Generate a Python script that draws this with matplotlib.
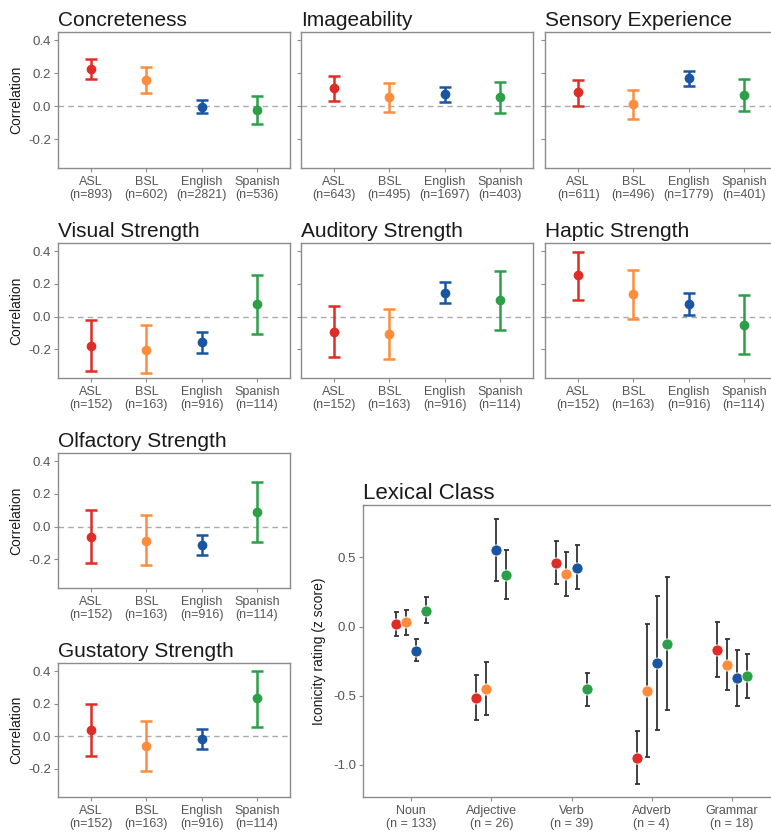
import numpy as np
import matplotlib
matplotlib.use("Agg")
import matplotlib.pyplot as plt

plt.rcParams['font.family'] = ['Liberation Sans', 'DejaVu Sans']

# languages and colours
langs = ['ASL', 'BSL', 'English', 'Spanish']
lang_colors = ['#DE2D26', '#FD8D3C', '#1A55A3', '#2CA048']

# correlation panels
titles = ['Concreteness', 'Imageability', 'Sensory Experience',
          'Visual Strength', 'Auditory Strength', 'Haptic Strength',
          'Olfactory Strength', 'Gustatory Strength']
n_words = [[893, 602, 2821, 536],
           [643, 495, 1697, 403],
           [611, 496, 1779, 401],
           [152, 163, 916, 114],
           [152, 163, 916, 114],
           [152, 163, 916, 114],
           [152, 163, 916, 114],
           [152, 163, 916, 114]]
corr = [[0.226, 0.158, -0.004, -0.024],
        [0.109, 0.055, 0.075, 0.055],
        [0.083, 0.014, 0.172, 0.067],
        [-0.181, -0.201, -0.156, 0.076],
        [-0.092, -0.107, 0.147, 0.100],
        [0.254, 0.140, 0.076, -0.049],
        [-0.064, -0.086, -0.115, 0.090],
        [0.039, -0.063, -0.018, 0.233]]
corr_lo = [[0.162, 0.081, -0.040, -0.111],
           [0.032, -0.034, 0.026, -0.044],
           [0.004, -0.075, 0.125, -0.028],
           [-0.330, -0.345, -0.222, -0.109],
           [-0.246, -0.256, 0.084, -0.084],
           [0.103, -0.012, 0.008, -0.230],
           [-0.222, -0.236, -0.174, -0.094],
           [-0.120, -0.212, -0.080, 0.055]]
corr_hi = [[0.287, 0.240, 0.036, 0.059],
           [0.184, 0.139, 0.119, 0.149],
           [0.160, 0.101, 0.216, 0.162],
           [-0.021, -0.051, -0.092, 0.256],
           [0.066, 0.049, 0.212, 0.278],
           [0.396, 0.287, 0.142, 0.135],
           [0.100, 0.070, -0.051, 0.273],
           [0.196, 0.092, 0.045, 0.400]]

# lexical class panel
classes = ['Noun', 'Adjective', 'Verb', 'Adverb', 'Grammar']
class_n = [133, 26, 39, 4, 18]
lex_mean = [[0.017, -0.514, 0.462, -0.947, -0.167],
            [0.029, -0.450, 0.380, -0.464, -0.275],
            [-0.175, 0.553, 0.426, -0.266, -0.373],
            [0.115, 0.373, -0.455, -0.124, -0.359]]
lex_lo = [[-0.067, -0.672, 0.306, -1.136, -0.364],
          [-0.060, -0.641, 0.222, -0.943, -0.459],
          [-0.251, 0.328, 0.270, -0.749, -0.574],
          [0.024, 0.196, -0.574, -0.605, -0.519]]
lex_hi = [[0.108, -0.354, 0.620, -0.756, 0.031],
          [0.117, -0.254, 0.541, 0.017, -0.089],
          [-0.091, 0.780, 0.586, 0.218, -0.170],
          [0.210, 0.555, -0.333, 0.359, -0.201]]

W, H = 771, 832
fig = plt.figure(figsize=(W / 100, H / 100), dpi=100)

frame_col = '#8C8C8C'
tick_col = '#555555'


def add_ax(x0, y0, x1, y1):
    # pixel box (top-left origin) -> figure axes
    return fig.add_axes([x0 / W, 1 - y1 / H, (x1 - x0) / W, (y1 - y0) / H])


def style(ax):
    for s in ax.spines.values():
        s.set_color(frame_col)
        s.set_linewidth(1.0)
    ax.tick_params(colors=frame_col, labelcolor=tick_col, labelsize=9.5,
                   length=3, width=0.8)
    ax.tick_params(axis='y', pad=1.8)
    ax.tick_params(axis='x', pad=2.5, labelsize=9)


def corr_panel(ax, k, show_y):
    x = np.arange(len(langs))
    ax.axhline(0, color='#AAAAAA', lw=1, ls=(0, (4, 3)), zorder=1)
    for i in range(len(langs)):
        err = [[corr[k][i] - corr_lo[k][i]], [corr_hi[k][i] - corr[k][i]]]
        ax.errorbar(x[i], corr[k][i], yerr=err, fmt='o', color=lang_colors[i],
                    ms=6, elinewidth=1.8, capsize=4.5, capthick=1.8, zorder=3)
    ax.set_xlim(-0.6, 3.6)
    ax.set_ylim(-0.375, 0.45)
    ax.set_yticks([-0.2, 0.0, 0.2, 0.4])
    ax.set_xticks(x)
    ax.set_xticklabels(['%s\n(n=%d)' % (l, n) for l, n in zip(langs, n_words[k])],
                       linespacing=1.15)
    style(ax)
    if show_y:
        ax.set_yticklabels(['-0.2', '0.0', '0.2', '0.4'])
        ax.set_ylabel('Correlation', fontsize=10, color='#1a1a1a', labelpad=4)
    else:
        ax.set_yticklabels([])
    ax.set_title(titles[k], loc='left', fontsize=15, color='#1a1a1a', pad=4)


cols = [(58, 290), (301, 533), (545, 777)]
rows = [(32, 168), (243, 378), (453, 588), (663, 797)]

k = 0
for r in range(2):
    for c in range(3):
        ax = add_ax(cols[c][0], rows[r][0], cols[c][1], rows[r][1])
        corr_panel(ax, k, c == 0)
        k += 1
for r in range(2, 4):
    ax = add_ax(cols[0][0], rows[r][0], cols[0][1], rows[r][1])
    corr_panel(ax, k, True)
    k += 1

# Lexical Class
ax = add_ax(363, 505, 780, 797)
xc = np.arange(len(classes))
off = [-0.1875, -0.0625, 0.0625, 0.1875]
for i in range(len(langs)):
    m = np.array(lex_mean[i])
    lo = m - np.array(lex_lo[i])
    hi = np.array(lex_hi[i]) - m
    ax.errorbar(xc + off[i], m, yerr=[lo, hi], fmt='none', ecolor='#333333',
                elinewidth=1.3, capsize=1.8, capthick=1.3, zorder=2)
    ax.plot(xc + off[i], m, 'o', color=lang_colors[i], ms=8,
            mec='white', mew=0.6, zorder=3)
ax.set_xlim(-0.6, 4.6)
ax.set_ylim(-1.232, 0.878)
ax.set_yticks([-1.0, -0.5, 0.0, 0.5])
ax.set_yticklabels(['-1.0', '-0.5', '0.0', '0.5'])
ax.set_xticks(xc)
ax.set_xticklabels(['%s\n(n = %d)' % (c, n) for c, n in zip(classes, class_n)],
                   linespacing=1.15)
style(ax)
ax.set_ylabel('Iconicity rating (z score)', fontsize=10, color='#1a1a1a', labelpad=5)
ax.set_title('Lexical Class', loc='left', fontsize=16, color='#1a1a1a', pad=4)

fig.savefig('out.png', dpi=100)
